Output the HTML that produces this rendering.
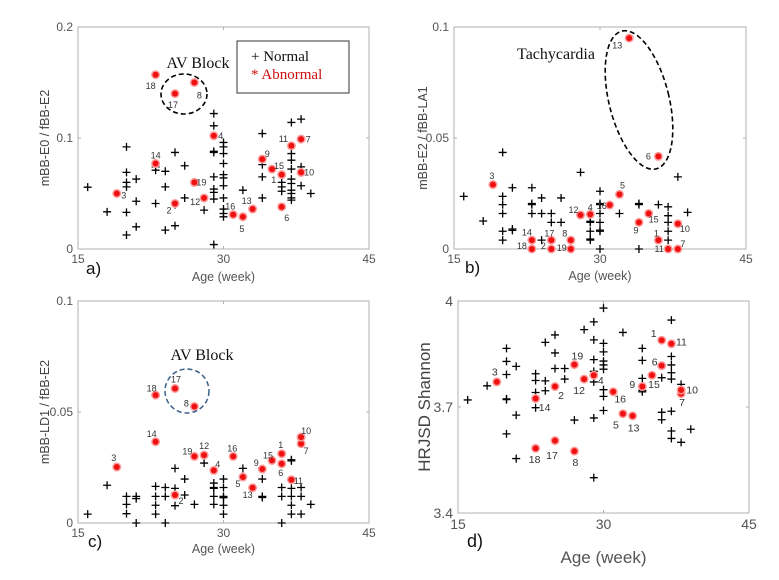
<!DOCTYPE html>
<html><head><meta charset="utf-8"><style>
body{margin:0;background:#fff;}
svg{display:block;font-family:"Liberation Sans",sans-serif;}
</style></head><body>
<svg id="fig" width="779" height="580"></svg>
<script>
// ---------- Panel a data ----------
const aNormAge=[16,18,20,20,20,20,20,20,21,21,21,23,23,23,24,24,24,25,25,25,26,26,28,29,29,29,29,29,29,29,29,29,30,30,30,30,30,30,30,30,30,30,30,32,34,34,34,34,36,36,36,37,37,37,37,37,37,37,37,37,37,38,38,38,39];
const aNormVal=[0.0557,0.0335,0.092,0.069,0.060,0.056,0.033,0.0126,0.063,0.043,0.020,0.074,0.071,0.041,0.070,0.056,0.017,0.087,0.040,0.021,0.075,0.046,0.035,0.122,0.111,0.088,0.087,0.065,0.054,0.051,0.045,0.004,0.096,0.092,0.086,0.077,0.067,0.064,0.057,0.046,0.036,0.032,0.029,0.053,0.104,0.076,0.065,0.046,0.060,0.056,0.052,0.114,0.086,0.080,0.072,0.063,0.059,0.053,0.050,0.046,0.044,0.117,0.074,0.057,0.050];
const aAbnId=[1,2,3,4,5,6,7,8,9,10,11,12,13,14,15,16,17,18,19];
const aAbnAge=[36,25,19,29,32,36,38,27,34,38,37,28,33,23,35,31,25,23,27];
const aAbnVal=[0.067,0.041,0.050,0.102,0.029,0.038,0.099,0.150,0.081,0.069,0.093,0.046,0.036,0.077,0.072,0.031,0.140,0.157,0.060];
const aLblDx=[-8,-6,7,7,-1,5,7,5,5,8,-8,-9,-6,0,7,-3,-2,-5,7];
const aLblDy=[5,7,2,0,12,11,0,13,-5,0,-7,4,-8,-8,-3,-8,11,11,0];
const aTicks=[0,0.1,0.2];
const aTickLabels=["0","0.1","0.2"];
// ---------- Panel b data ----------
const bNormAge=[16,18,20,20,20,20,20,20,21,21,21,23,23,23,23,24,24,24,25,25,26,26,28,29,29,29,29,29,29,30,30,30,30,30,30,30,30,32,34,34,34,36,37,37,37,37,37,38,39];
const bNormVal=[0.0237,0.0126,0.0435,0.0237,0.020,0.016,0.008,0.004,0.0276,0.009,0.0084,0.0276,0.0205,0.020,0.016,0.023,0.016,0.004,0.016,0.012,0.023,0.012,0.0345,0.016,0.0125,0.012,0.008,0.0045,0.004,0.026,0.0205,0.020,0.016,0.012,0.0085,0.008,0,0.016,0.0205,0.020,0,0.020,0.019,0.015,0.012,0.008,0.004,0.0325,0.0165];
const bAbnId=[1,2,3,4,5,6,7,8,9,10,11,12,13,14,15,16,17,18,19];
const bAbnAge=[36,25,19,29,32,36,38,27,34,38,37,28,33,23,35,31,25,23,27];
const bAbnVal=[0.004,0,0.029,0.0156,0.0246,0.0417,0,0.004,0.012,0.0114,0,0.0153,0.095,0.004,0.016,0.0198,0.004,0,0];
const bLblDx=[-2,-8,-1,0,3,-10,5,-6,-3,7,-9,-7,-12,-5,5,-8,-2,-10,-9];
const bLblDy=[-7,-3,-9,-7,-9,0,-5,-7,8,5,0,-5,7,-8,6,1,-7,-3,-1];
const bTicks=[0,0.05,0.1];
const bTickLabels=["0","0.05","0.1"];
// ---------- Panel c data ----------
const cNormAge=[16,18,20,20,20,21,21,21,23,23,23,23,24,24,24,25,25,25,26,26,27,28,29,29,29,29,29,30,30,30,30,30,30,32,34,34,34,36,36,36,37,37,37,37,37,37,38,38,38,39];
const cNormVal=[0.004,0.017,0.012,0.0084,0.0042,0.012,0.011,0,0.0165,0.012,0.008,0.004,0.016,0.012,0,0.0246,0.0156,0.0078,0.0198,0.0126,0.0084,0.027,0.018,0.016,0.0156,0.012,0.0084,0.0198,0.016,0.012,0.0114,0.008,0.004,0.0246,0.0198,0.012,0.0115,0.016,0.012,0,0.0285,0.028,0.0156,0.012,0.008,0.004,0.016,0.012,0.004,0.0084];
const cAbnId=[1,2,3,4,5,6,7,8,9,10,11,12,13,14,15,16,17,18,19];
const cAbnAge=[36,25,19,29,32,36,38,27,34,38,37,28,33,23,35,31,25,23,27];
const cAbnVal=[0.0312,0.0126,0.0252,0.0237,0.0207,0.0267,0.0357,0.0525,0.0243,0.0387,0.0195,0.0306,0.0159,0.0366,0.0282,0.030,0.0606,0.0576,0.030];
const cLblDx=[-1,6,-3,4,-5,-1,5,-8,-6,5,7,0,-5,-4,-4,-1,1,-4,-7];
const cLblDy=[-9,6,-9,-6,7,9,7,-3,-6,-6,1,-9,7,-8,-5,-8,-9,-7,-5];
const cTicks=[0,0.05,0.1];
const cTickLabels=["0","0.05","0.1"];
// ---------- Panel d data ----------
const dNormAge=[16,18,20,20,20,20,20,20,21,21,21,23,23,23,23,24,24,24,25,25,25,26,26,27,28,29,29,29,29,29,29,29,30,30,30,30,30,30,30,30,30,32,34,34,34,34,34,36,36,36,37,37,37,37,37,37,37,37,38,38,39];
const dNormVal=[3.720,3.760,3.866,3.829,3.792,3.723,3.721,3.624,3.815,3.677,3.554,3.794,3.775,3.741,3.698,3.883,3.774,3.746,3.904,3.853,3.809,3.809,3.779,3.663,3.919,3.941,3.890,3.834,3.801,3.771,3.669,3.500,3.980,3.880,3.856,3.830,3.819,3.807,3.749,3.730,3.690,3.911,3.866,3.832,3.781,3.747,3.743,3.783,3.685,3.664,3.946,3.843,3.819,3.797,3.779,3.688,3.632,3.611,3.764,3.600,3.637];
const dAbnId=[1,2,3,4,5,6,7,8,9,10,11,12,13,14,15,16,17,18,19];
const dAbnAge=[36,25,19,29,32,36,38,27,34,38,37,28,33,23,35,31,25,23,27];
const dAbnVal=[3.889,3.758,3.771,3.790,3.681,3.817,3.738,3.575,3.758,3.748,3.879,3.779,3.675,3.724,3.790,3.743,3.605,3.583,3.820];
const dLblDx=[-8,6,-2,7,-7,-7,1,1,-10,11,10,-5,1,9,2,7,-3,-1,3];
const dLblDy=[-7,9,-10,5,11,-4,9,11,-2,0,-2,11,12,9,9,7,15,11,-9];
const dTicks=[3.4,3.7,4];
const dTickLabels=["3.4","3.7","4"];
const xTicks=[15,30,45];
const xTickLabels=["15","30","45"];

const NS="http://www.w3.org/2000/svg";
const svg=document.getElementById('fig');
function mk(tag,attrs,parent){const e=document.createElementNS(NS,tag);for(const k in attrs)e.setAttribute(k,attrs[k]);(parent||svg).appendChild(e);return e;}

function drawPanel(p){
  const g=mk('g',{});
  
  
  const sx=v=>p.L+(v-15)/30*(p.R-p.L);
  const sy=v=>p.B-(v-p.ymin)/(p.ymax-p.ymin)*(p.B-p.T);
  const box=mk('rect',{x:p.L,y:p.T,width:p.R-p.L,height:p.B-p.T,fill:'none',stroke:'#b0b0b0','stroke-width':1},g);
  
  
  xTicks.forEach((t,i)=>{
    const x=sx(t);
    mk('line',{x1:x,y1:p.B,x2:x,y2:p.B-3,stroke:'#b0b0b0'},g);
    mk('line',{x1:x,y1:p.T,x2:x,y2:p.T+3,stroke:'#b0b0b0'},g);
    const tx=mk('text',{x:x,y:p.B+p.fs+2,'text-anchor':'middle','font-size':p.fs,fill:'#555'},g);
    tx.textContent=xTickLabels[i];
    
    
  });
  p.ticks.forEach((t,i)=>{
    const y=sy(t);
    mk('line',{x1:p.L,y1:y,x2:p.L+3,y2:y,stroke:'#b0b0b0'},g);
    mk('line',{x1:p.R,y1:y,x2:p.R-3,y2:y,stroke:'#b0b0b0'},g);
    const ty=mk('text',{x:p.L-5,y:y+p.fs*0.35,'text-anchor':'end','font-size':p.fs,fill:'#555'},g);
    ty.textContent=p.tickLabels[i];
    
    
  });
  const xl=mk('text',{x:(p.L+p.R)/2,y:p.xlY,'text-anchor':'middle','font-size':p.lfs,fill:'#555'},g);
  xl.textContent='Age (week)';
  
  
  const yl=mk('text',{x:p.ylX,y:(p.T+p.B)/2,'text-anchor':'middle','font-size':p.lfs,fill:'#444',transform:`rotate(-90 ${p.ylX} ${(p.T+p.B)/2})`},g);
  yl.textContent=p.ylabel;
  
  
  const pl=mk('text',{x:p.plX,y:p.plY,'font-size':p.pfs,fill:'#111'},g);
  pl.textContent=p.id+')';
  
  
  p.normAge.forEach((a,i)=>{
    const x=sx(a),y=sy(p.normVal[i]);
    const m=mk('path',{d:`M${x-4},${y}H${x+4}M${x},${y-4}V${y+4}`,stroke:'#000','stroke-width':1.3},g);
    
    
  });
  p.abnAge.forEach((a,i)=>{
    const x=sx(a),y=sy(p.abnVal[i]);
    mk('circle',{cx:x,cy:y,r:4.5,fill:'#ff9a9a'},g);
    const m=mk('circle',{cx:x,cy:y,r:3,fill:'#ee1111'},g);
    
    
    const t=mk('text',{x:x+p.dx[i],y:y+p.dy[i]+p.nfs*0.35,'text-anchor':'middle','font-size':p.nfs,fill:'#333'},g);
    t.textContent=String(p.abnId[i]);
    
    
  });
  return g;
}

drawPanel({id:'a',L:78,R:369,T:27,B:249,ymin:0,ymax:0.2,ticks:aTicks,tickLabels:aTickLabels,normAge:aNormAge,normVal:aNormVal,abnAge:aAbnAge,abnVal:aAbnVal,abnId:aAbnId,dx:aLblDx,dy:aLblDy,fs:12,lfs:12.5,nfs:9,pfs:17,xlY:281,ylX:49,ylabel:'mBB-E0 / fBB-E2',plX:86,plY:274});
drawPanel({id:'b',L:454,R:746,T:27,B:249,ymin:0,ymax:0.1,ticks:bTicks,tickLabels:bTickLabels,normAge:bNormAge,normVal:bNormVal,abnAge:bAbnAge,abnVal:bAbnVal,abnId:bAbnId,dx:bLblDx,dy:bLblDy,fs:12,lfs:12.5,nfs:9,pfs:17,xlY:280,ylX:427,ylabel:'mBB-E2 / fBB-LA1',plX:465,plY:273});
drawPanel({id:'c',L:78,R:369,T:301,B:523,ymin:0,ymax:0.1,ticks:cTicks,tickLabels:cTickLabels,normAge:cNormAge,normVal:cNormVal,abnAge:cAbnAge,abnVal:cAbnVal,abnId:cAbnId,dx:cLblDx,dy:cLblDy,fs:12,lfs:12.5,nfs:9,pfs:17,xlY:553,ylX:49,ylabel:'mBB-LD1 / fBB-E2',plX:88,plY:547});
drawPanel({id:'d',L:458,R:749,T:301,B:513,ymin:3.4,ymax:4,ticks:dTicks,tickLabels:dTickLabels,normAge:dNormAge,normVal:dNormVal,abnAge:dAbnAge,abnVal:dAbnVal,abnId:dAbnId,dx:dLblDx,dy:dLblDy,fs:14,lfs:17,nfs:10.5,pfs:18,xlY:563,ylX:430,ylabel:'HRJSD Shannon',plX:467,plY:547});

// annotations
function ann(tag,attrs,name){const e=mk(tag,attrs);return e;}
ann('ellipse',{cx:184,cy:94,rx:23,ry:20,fill:'none',stroke:'#000','stroke-width':1.6,'stroke-dasharray':'5,3'},'av-block-circle-a');
ann('text',{x:198,y:68,'text-anchor':'middle','font-size':16,'font-family':'Liberation Serif, serif',fill:'#111'},'av-block-label-a').textContent='AV Block';
ann('rect',{x:237,y:41,width:112,height:52,fill:'#fff',stroke:'#333','stroke-width':1},'legend-box');
ann('text',{x:251,y:61,'font-size':15,'font-family':'Liberation Serif, serif',fill:'#111'},'legend-entry-normal').textContent='+ Normal';
ann('text',{x:251,y:79,'font-size':15,'font-family':'Liberation Serif, serif',fill:'#d01010'},'legend-entry-abnormal').textContent='* Abnormal';
ann('ellipse',{cx:639,cy:100,rx:30,ry:71,fill:'none',stroke:'#000','stroke-width':1.6,'stroke-dasharray':'5,3',transform:'rotate(-14 639 100)'},'tachycardia-ellipse');
ann('text',{x:556,y:59,'text-anchor':'middle','font-size':16,'font-family':'Liberation Serif, serif',fill:'#111'},'tachycardia-label').textContent='Tachycardia';
ann('ellipse',{cx:187,cy:391,rx:22,ry:22,fill:'none',stroke:'#3a5f8a','stroke-width':1.5,'stroke-dasharray':'5,3'},'av-block-circle-c');
ann('text',{x:202,y:360,'text-anchor':'middle','font-size':16,'font-family':'Liberation Serif, serif',fill:'#111'},'av-block-label-c').textContent='AV Block';
</script>
</body></html>
